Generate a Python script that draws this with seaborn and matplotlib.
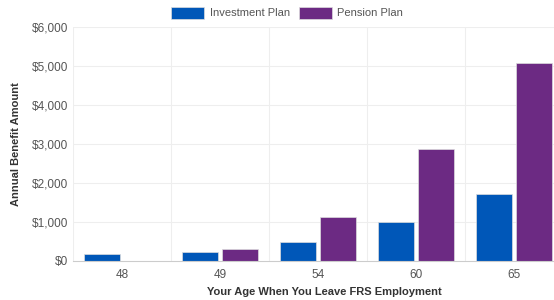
import pandas as pd
import seaborn as sns
import matplotlib.pyplot as plt
from matplotlib.ticker import FuncFormatter

# values
ages = ["48", "49", "54", "60", "65"]
investment = [180, 220, 480, 1010, 1710]
pension = [0, 300, 1120, 2860, 5080]
plans = ["Investment Plan", "Pension Plan"]
colors = ["#0057B8", "#6C2A83"]

df = pd.DataFrame({
    "age": ages * 2,
    "amount": investment + pension,
    "plan": [plans[0]] * len(ages) + [plans[1]] * len(ages),
})

sns.set_style("white")
plt.rcParams['font.family'] = ['Liberation Sans', 'DejaVu Sans']

fig = plt.figure(figsize=(5.54, 3.0), dpi=100)
ax = fig.add_axes([73 / 554, 39 / 300, 490 / 554, 234 / 300])

sns.barplot(data=df, x="age", y="amount", hue="plan", palette=colors,
            saturation=1, width=0.8, gap=0.08, ax=ax, legend=True,
            edgecolor="#dddddd", linewidth=0.5)

ax.set_ylim(0, 6000)
ax.set_yticks(range(0, 6001, 1000))
ax.yaxis.set_major_formatter(FuncFormatter(lambda v, p: "${:,.0f}".format(v)))
ax.set_xlim(-0.5, 4.5)

# grid: horizontal at ticks, vertical at category boundaries
for y in range(1000, 6001, 1000):
    ax.axhline(y, color="#eeeeee", lw=0.8, zorder=0)
for x in [-0.5, 0.5, 1.5, 2.5, 3.5]:
    ax.axvline(x, color="#eeeeee", lw=0.8, zorder=0)

for s in ["top", "right", "left"]:
    ax.spines[s].set_visible(False)
ax.spines["bottom"].set_color("#cccccc")
ax.spines["bottom"].set_linewidth(0.8)

ax.tick_params(axis="both", length=0, labelsize=8.5, labelcolor="#555555")
ax.tick_params(axis="x", pad=6)

ax.set_xlabel("Your Age When You Leave FRS Employment", fontsize=8,
              fontweight="bold", color="#333333")
ax.set_ylabel("Annual Benefit Amount", fontsize=8, fontweight="bold",
              color="#333333")
ax.xaxis.set_label_coords((324 - 73) / 490, -0.11)
ax.yaxis.set_label_coords(-0.107, 0.5)

ax.legend(loc="upper center", bbox_to_anchor=((287 - 73) / 490, 1.13),
          ncol=2, frameon=False, fontsize=8, handlelength=3.0,
          handleheight=1.3, columnspacing=0.8, handletextpad=0.5,
          labelcolor="#555555")

plt.savefig("out.png", dpi=100)
